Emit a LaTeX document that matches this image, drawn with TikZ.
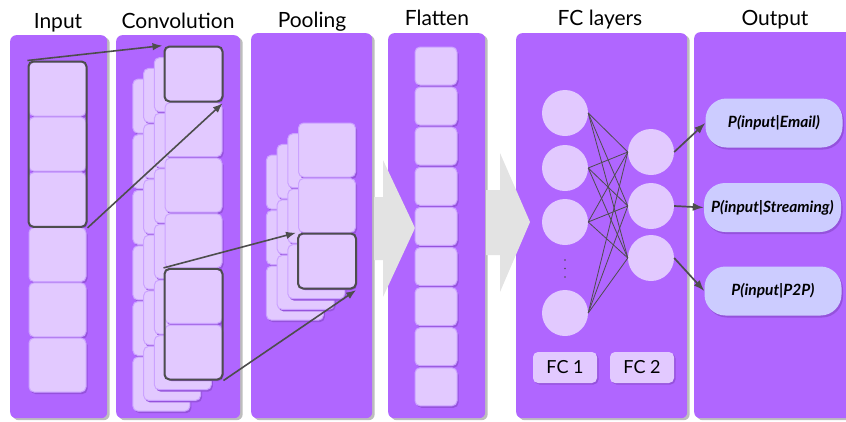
\documentclass[tikz,border=0pt]{standalone}
\usepackage{fontspec}
\setmainfont{Lato}
\usetikzlibrary{shadows,fit,arrows.meta}

\definecolor{panel}{HTML}{B066FF}
\definecolor{panelshadow}{HTML}{BDBDBD}
\definecolor{cellfill}{HTML}{E2C9FF}
\definecolor{cellborder}{HTML}{CBA2FF}
\definecolor{cellshadow}{HTML}{9552DC}
\definecolor{hlgray}{HTML}{4D4D4D}
\definecolor{outfill}{HTML}{CCCCFF}
\definecolor{blockgray}{HTML}{E3E3E3}

\begin{document}
\begin{tikzpicture}[x=1pt,y=-1pt,
  panelbox/.style={rectangle, anchor=north west, inner sep=0pt, fill=panel,
    rounded corners=6pt,
    drop shadow={shadow xshift=2.5pt, shadow yshift=-2pt, fill=panelshadow, opacity=1}},
  title/.style={anchor=base, font=\fontsize{21}{24}\selectfont, inner sep=0pt},
  cell/.style={rectangle, fill=cellfill, draw=cellborder, line width=1pt,
    rounded corners=5pt, minimum width=57pt, minimum height=54pt, inner sep=0pt,
    drop shadow={shadow xshift=1.5pt, shadow yshift=-2pt, fill=cellshadow, opacity=1}},
  flatcell/.style={cell, minimum width=42pt, minimum height=38pt},
  hl/.style={draw=hlgray, line width=2pt, rounded corners=5pt, inner sep=0pt},
  link/.style={draw=hlgray, line width=1.6pt, shorten >=1pt,
    -{Latex[length=10pt,width=7.5pt]}},
  neuron/.style={circle, fill=cellfill, minimum size=46pt, inner sep=0pt},
  wire/.style={draw=hlgray, line width=0.8pt},
  fclabel/.style={rectangle, fill=cellfill, rounded corners=5pt, minimum width=64pt,
    minimum height=31pt, inner sep=0pt, font=\fontsize{18}{20}\selectfont,
    drop shadow={shadow xshift=1.5pt, shadow yshift=-1.5pt, fill=cellshadow, opacity=1}},
  outbox/.style={rectangle, fill=outfill, rounded corners=21pt, minimum width=137pt,
    minimum height=49pt, inner sep=0pt,
    font=\fontsize{15.5}{17}\selectfont\bfseries\itshape,
    drop shadow={shadow xshift=1.5pt, shadow yshift=-2pt, fill=cellshadow, opacity=1}},
  outlink/.style={draw=hlgray, line width=1.7pt, -{Latex[length=11pt,width=8pt]}},
  block/.style={fill=blockgray}
]
\useasboundingbox (0,0) rectangle (846,421);

% column panels
\node[panelbox, minimum width=97pt, minimum height=383pt] (pin) at (10,35) {};
\node[panelbox, minimum width=124pt, minimum height=383pt] (pconv) at (116,35) {};
\node[panelbox, minimum width=121pt, minimum height=385pt] (ppool) at (251,33) {};
\node[panelbox, minimum width=97pt, minimum height=385pt] (pflat) at (388,33) {};
\node[panelbox, minimum width=171pt, minimum height=385pt] (pfc) at (516,33) {};
\node[panelbox, minimum width=160pt, minimum height=386pt] (pout) at (694,32) {};

% titles
\node[title] (tin) at (58,28.5) {Input};
\node[title] (tconv) at (178,28.5) {Convolution};
\node[title] (tpool) at (312,27) {Pooling};
\node[title] (tflat) at (437,25) {Flatten};
\node[title] (tfc) at (600,25) {FC layers};
\node[title] (tout) at (775,25) {Output};

% big grey arrows between stages
\fill[block] (374,197) -- (383,197) -- (383,160) -- (415,228) -- (383,297)
  -- (383,260) -- (374,260) -- cycle;
\fill[block] (486,190) -- (500,190) -- (500,153) -- (530,222) -- (500,292)
  -- (500,255) -- (486,255) -- cycle;

% input column
\foreach \j in {1,...,6}
  \node[cell] (in\j) at (57.5,{89+55.2*(\j-1)}) {};

% convolution feature maps, back to front
\foreach \k in {3,2,1,0}
  \foreach \j in {1,...,6}
    \node[cell] (cv\k\j) at ({193.5-10.7*\k},{74+10.7*\k+55.6*(\j-1)}) {};

% pooled feature maps, back to front
\foreach \k in {3,2,1,0}
  \foreach \j in {1,2,3}
    \node[cell] (pl\k\j) at ({327-10.7*\k},{150+10.7*\k+55.5*(\j-1)}) {};

% flattened vector
\foreach \j in {1,...,9}
  \node[flatcell] (fl\j) at (436,{66+40.1*(\j-1)}) {};

% receptive field highlights
\node[hl, fit=(in1)(in3)] (hin) {};
\node[hl, fit=(cv01)] (hcv1) {};
\node[hl, fit=(cv05)(cv06)] (hcv2) {};
\node[hl, fit=(pl03)] (hpl) {};

\draw[link] (hin.north west) -- (hcv1.north west);
\draw[link] (hin.south east) -- (hcv1.south east);
\draw[link] (hcv2.north west) -- (hpl.north west);
\draw[link] (hcv2.south east) -- (hpl.south east);

% fully connected layers
\node[neuron] (fa1) at (565,113) {};
\node[neuron] (fa2) at (565,168) {};
\node[neuron] (fa3) at (565,222) {};
\node[neuron] (fa4) at (565,313) {};
\node[neuron] (fb1) at (651,152) {};
\node[neuron] (fb2) at (651,206) {};
\node[neuron] (fb3) at (651,258) {};
\foreach \a in {1,...,4}
  \foreach \b in {1,2,3}
    \draw[wire] (fa\a.east) -- (fb\b.west);
\foreach \y in {260,268.5,277}
  \fill[hlgray] (565,\y) circle (0.9pt);

\node[fclabel] (fc1) at (565,367.5) {FC 1};
\node[fclabel] (fc2) at (642,367.5) {FC 2};

% class probabilities
\node[outbox] (o1) at (774,123) {P(input|Email)};
\node[outbox] (o2) at (772.5,207.5) {P(input|Streaming)};
\node[outbox] (o3) at (773,291) {P(input|P2P)};

\draw[outlink] (fb1.east) -- (o1.west);
\draw[outlink] (fb2.east) -- (o2.west);
\draw[outlink] (fb3.east) -- (o3.west);
\end{tikzpicture}
\end{document}
